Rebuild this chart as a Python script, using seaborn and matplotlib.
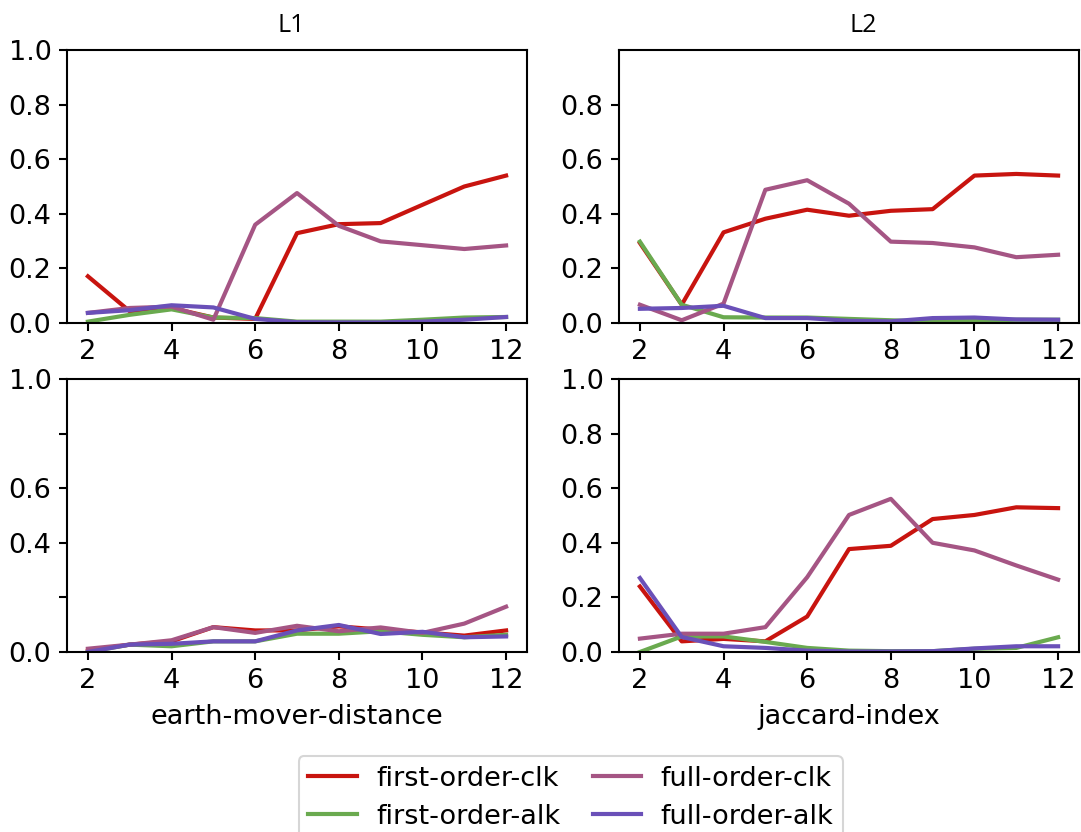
import matplotlib
matplotlib.use("Agg")
import matplotlib.pyplot as plt
from matplotlib.lines import Line2D
import pandas as pd
import seaborn as sns

# number of components on the x axis
sizes = [2, 3, 4, 5, 6, 7, 8, 9, 10, 11, 12]

methods = ["first-order-clk", "first-order-alk", "full-order-clk", "full-order-alk"]
colors = ["#c8140f", "#6aaa4f", "#a55584", "#6a50b8"]

# L1
l1_first_clk = [0.171, 0.043, 0.055, 0.020, 0.015, 0.329, 0.362, 0.366, 0.433, 0.500, 0.540]
l1_first_alk = [0.005, 0.030, 0.050, 0.020, 0.018, 0.005, 0.005, 0.005, 0.012, 0.020, 0.022]
l1_full_clk = [0.037, 0.055, 0.060, 0.012, 0.360, 0.476, 0.356, 0.299, 0.285, 0.271, 0.284]
l1_full_alk = [0.037, 0.047, 0.065, 0.057, 0.015, 0.003, 0.002, 0.002, 0.005, 0.012, 0.022]

# L2
l2_first_clk = [0.293, 0.067, 0.332, 0.382, 0.415, 0.393, 0.411, 0.417, 0.540, 0.546, 0.540]
l2_first_alk = [0.298, 0.067, 0.021, 0.020, 0.020, 0.015, 0.010, 0.005, 0.008, 0.012, 0.012]
l2_full_clk = [0.067, 0.010, 0.071, 0.488, 0.523, 0.437, 0.298, 0.293, 0.277, 0.241, 0.250]
l2_full_alk = [0.052, 0.055, 0.063, 0.018, 0.018, 0.008, 0.006, 0.018, 0.020, 0.013, 0.012]

# earth-mover-distance
emd_first_clk = [0.005, 0.027, 0.039, 0.091, 0.079, 0.079, 0.094, 0.082, 0.072, 0.060, 0.079]
emd_first_alk = [0.000, 0.027, 0.021, 0.039, 0.039, 0.067, 0.067, 0.076, 0.063, 0.054, 0.063]
emd_full_clk = [0.012, 0.027, 0.043, 0.091, 0.070, 0.096, 0.076, 0.090, 0.070, 0.104, 0.166]
emd_full_alk = [0.000, 0.027, 0.030, 0.039, 0.039, 0.079, 0.099, 0.066, 0.074, 0.054, 0.057]

# jaccard-index
jac_first_clk = [0.240, 0.039, 0.048, 0.039, 0.130, 0.377, 0.389, 0.487, 0.502, 0.530, 0.527]
jac_first_alk = [0.000, 0.057, 0.057, 0.037, 0.015, 0.005, 0.003, 0.003, 0.012, 0.015, 0.054]
jac_full_clk = [0.049, 0.067, 0.067, 0.091, 0.274, 0.502, 0.561, 0.400, 0.372, 0.317, 0.265]
jac_full_alk = [0.271, 0.055, 0.021, 0.015, 0.005, 0.002, 0.002, 0.003, 0.013, 0.021, 0.021]

panels = {
    "L1": [l1_first_clk, l1_first_alk, l1_full_clk, l1_full_alk],
    "L2": [l2_first_clk, l2_first_alk, l2_full_clk, l2_full_alk],
    "earth-mover-distance": [emd_first_clk, emd_first_alk, emd_full_clk, emd_full_alk],
    "jaccard-index": [jac_first_clk, jac_first_alk, jac_full_clk, jac_full_alk],
}

rows = []
for metric, series in panels.items():
    for method, values in zip(methods, series):
        for n, v in zip(sizes, values):
            rows.append({"metric": metric, "n": n, "method": method, "score": v})
df = pd.DataFrame(rows)

sns.set_style("ticks", {
    "axes.edgecolor": "black",
    "xtick.color": "black",
    "ytick.color": "black",
    "text.color": "black",
    "axes.labelcolor": "black",
})
plt.rcParams.update({
    "lines.solid_capstyle": "projecting",
    "font.family": ["DejaVu Sans"],
    "axes.linewidth": 1.0,
    "xtick.major.width": 1.0,
    "ytick.major.width": 1.0,
    "xtick.major.size": 4.0,
    "ytick.major.size": 4.0,
    "xtick.labelsize": 13,
    "ytick.labelsize": 13,
    "axes.labelsize": 13,
})

fig = plt.figure(figsize=(1081 / 150, 832 / 150), dpi=150)

W, H = 1081, 832
def frac(x0, x1, ytop, ybot):
    return [x0 / W, 1 - ybot / H, (x1 - x0) / W, (ybot - ytop) / H]

axes = {
    "L1": fig.add_axes(frac(67, 527, 50, 323)),
    "L2": fig.add_axes(frac(619, 1079, 50, 323)),
    "earth-mover-distance": fig.add_axes(frac(67, 527, 379, 652)),
    "jaccard-index": fig.add_axes(frac(619, 1079, 379, 652)),
}

for metric, ax in axes.items():
    sub = df[df["metric"] == metric]
    sns.lineplot(data=sub, x="n", y="score", hue="method", hue_order=methods,
                 palette=colors, linewidth=2.0, errorbar=None, legend=False, ax=ax)
    ax.set_xlim(1.5, 12.5)
    ax.set_ylim(0, 1.0)
    ax.set_xticks([2, 4, 6, 8, 10, 12])
    ax.set_xlabel("")
    ax.set_ylabel("")
    for side in ["top", "right"]:
        ax.spines[side].set_visible(True)

axes["L1"].set_yticks([0, 0.2, 0.4, 0.6, 0.8, 1.0])
axes["L2"].set_yticks([0, 0.2, 0.4, 0.6, 0.8])
axes["jaccard-index"].set_yticks([0, 0.2, 0.4, 0.6, 0.8, 1.0])
axes["earth-mover-distance"].set_yticks([0, 0.2, 0.4, 0.6, 0.8, 1.0])
axes["earth-mover-distance"].set_yticklabels(["0.0", "", "0.4", "0.6", "", "1.0"])

title_x = {"L1": 0.488, "L2": 0.530}
for name, tx in title_x.items():
    axes[name].set_title(name, fontsize=12, family=["Open Sans", "DejaVu Sans"],
                         pad=8.5, x=tx)
for name in ["earth-mover-distance", "jaccard-index"]:
    axes[name].set_xlabel(name, labelpad=5)

handles = [Line2D([0], [0], color=c, lw=2.0) for c in colors]
fig.legend(handles, methods, loc="upper center", bbox_to_anchor=(0.528, 0.091),
           borderaxespad=0.0, ncol=2, handlelength=1.8, columnspacing=1.2,
           handletextpad=0.7, labelspacing=0.45, borderpad=0.35, fontsize=13)

fig.savefig("out.png", dpi=150)
